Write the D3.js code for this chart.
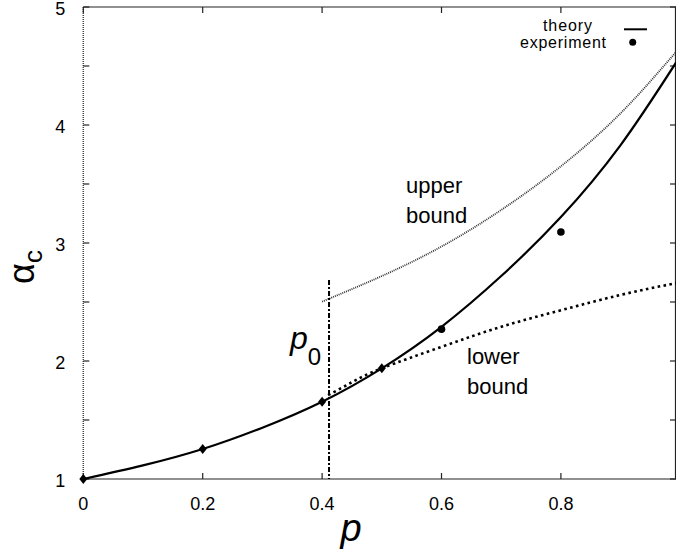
<!DOCTYPE html>
<html>
<head>
<meta charset="utf-8">
<script src="https://cdn.jsdelivr.net/npm/d3@7"></script>
<style>
  body { margin: 0; background: #fff; }
  text { font-family: "Liberation Sans", Arial, sans-serif; fill: #000; }
</style>
</head>
<body>
<div id="chart"></div>
<script>
// values
const theoryP     = [0, 0.1, 0.2, 0.3, 0.4, 0.5, 0.6, 0.7, 0.8, 0.9, 0.993];
const theoryAlpha = [1, 1.115, 1.254, 1.435, 1.655, 1.938, 2.29, 2.72, 3.22, 3.83, 4.53];

const upperP     = [0.4, 0.5, 0.6, 0.7, 0.8, 0.9, 0.993];
const upperAlpha = [2.503, 2.72, 2.97, 3.28, 3.65, 4.1, 4.62];

const lowerP     = [0.41, 0.45, 0.5, 0.6, 0.7, 0.8, 0.9, 0.993];
const lowerAlpha = [1.71, 1.82, 1.938, 2.12, 2.29, 2.43, 2.56, 2.66];

const diamondP     = [0, 0.2, 0.4, 0.5];
const diamondAlpha = [1, 1.254, 1.655, 1.938];

const expP     = [0.6, 0.8];
const expAlpha = [2.27, 3.093];

const p0 = 0.4116;
const p0Top = 2.686;

const xTicks = [0, 0.2, 0.4, 0.6, 0.8];
const yTicks = [1, 1.5, 2, 2.5, 3, 3.5, 4, 4.5, 5];
const yLabels = [1, 2, 3, 4, 5];

const width = 676, height = 554;
const margin = { top: 7, right: 0, bottom: 75, left: 83.3 };

const svg = d3.select('#chart').append('svg')
  .attr('width', width)
  .attr('height', height);

const x = d3.scaleLinear()
  .domain([0, 0.9928])
  .range([margin.left, width - margin.right]);

const y = d3.scaleLinear()
  .domain([1, 5])
  .range([height - margin.bottom, margin.top]);

const x0 = x(0), x1 = x.range()[1], yb = y(1), yt = y(5);

// frame
svg.append('line').attr('x1', x0).attr('x2', x1).attr('y1', yb).attr('y2', yb)
  .attr('stroke', '#222').attr('stroke-width', 1.2);
svg.append('line').attr('x1', x0).attr('x2', x1).attr('y1', yt).attr('y2', yt)
  .attr('stroke', '#222').attr('stroke-width', 1.2);
svg.append('line').attr('x1', x0).attr('x2', x0).attr('y1', yt).attr('y2', yb)
  .attr('stroke', '#444').attr('stroke-width', 1.5).attr('stroke-dasharray', '1,1');
svg.append('line').attr('x1', x1 - 0.5).attr('x2', x1 - 0.5).attr('y1', yt).attr('y2', yb)
  .attr('stroke', '#222').attr('stroke-width', 1.2);

// ticks
const tickG = svg.append('g').attr('stroke', '#222').attr('stroke-width', 1.2);
xTicks.forEach(t => {
  tickG.append('line').attr('x1', x(t)).attr('x2', x(t)).attr('y1', yb).attr('y2', yb - 6);
  tickG.append('line').attr('x1', x(t)).attr('x2', x(t)).attr('y1', yt).attr('y2', yt + 6);
});
yTicks.forEach(t => {
  tickG.append('line').attr('x1', x0).attr('x2', x0 + 6).attr('y1', y(t)).attr('y2', y(t));
  tickG.append('line').attr('x1', x1).attr('x2', x1 - 6).attr('y1', y(t)).attr('y2', y(t));
});

svg.append('g').selectAll('text')
  .data(xTicks)
  .join('text')
    .attr('x', d => x(d))
    .attr('y', yb + 31)
    .attr('text-anchor', 'middle')
    .attr('font-size', 18)
    .text(d => d3.format('')(d));

svg.append('g').selectAll('text')
  .data(yLabels)
  .join('text')
    .attr('x', x0 - 18)
    .attr('y', d => y(d) + 8)
    .attr('text-anchor', 'end')
    .attr('font-size', 18)
    .text(d => d);

// curves
const line = d3.line()
  .x(d => x(d[0]))
  .y(d => y(d[1]))
  .curve(d3.curveNatural);

svg.append('path')
  .datum(d3.zip(upperP, upperAlpha))
  .attr('d', line)
  .attr('fill', 'none')
  .attr('stroke', '#333')
  .attr('stroke-width', 1.8)
  .attr('stroke-dasharray', '1,1');

svg.append('path')
  .datum(d3.zip(lowerP, lowerAlpha))
  .attr('d', line)
  .attr('fill', 'none')
  .attr('stroke', '#000')
  .attr('stroke-width', 2.6)
  .attr('stroke-dasharray', '2.6,3.4');

svg.append('path')
  .datum(d3.zip(theoryP, theoryAlpha))
  .attr('d', line)
  .attr('fill', 'none')
  .attr('stroke', '#000')
  .attr('stroke-width', 2.2);

// p0 line
svg.append('line')
  .attr('x1', x(p0)).attr('x2', x(p0))
  .attr('y1', y(p0Top)).attr('y2', yb)
  .attr('stroke', '#000')
  .attr('stroke-width', 2)
  .attr('stroke-dasharray', '5,2,2,2');

// markers
svg.append('g').selectAll('path')
  .data(d3.zip(diamondP, diamondAlpha))
  .join('path')
    .attr('transform', d => `translate(${x(d[0])},${y(d[1])})`)
    .attr('d', 'M0,-5L4,0L0,5L-4,0Z')
    .attr('fill', '#000');

svg.append('g').selectAll('circle')
  .data(d3.zip(expP, expAlpha))
  .join('circle')
    .attr('cx', d => x(d[0]))
    .attr('cy', d => y(d[1]))
    .attr('r', 3.8)
    .attr('fill', '#000');

// legend
svg.append('text').attr('x', 543).attr('y', 31)
  .attr('font-size', 16).attr('textLength', 49).attr('lengthAdjust', 'spacing').text('theory');
svg.append('text').attr('x', 520).attr('y', 48)
  .attr('font-size', 16).attr('textLength', 86).attr('lengthAdjust', 'spacing').text('experiment');
svg.append('line').attr('x1', 624).attr('x2', 647).attr('y1', 29.3).attr('y2', 29.3)
  .attr('stroke', '#000').attr('stroke-width', 2);
svg.append('circle').attr('cx', 632.7).attr('cy', 42.3).attr('r', 3.5).attr('fill', '#000');

// annotations
svg.append('text').attr('x', 406).attr('y', 193).attr('font-size', 22).text('upper');
svg.append('text').attr('x', 406).attr('y', 223).attr('font-size', 22).text('bound');
svg.append('text').attr('x', 467).attr('y', 364).attr('font-size', 22).text('lower');
svg.append('text').attr('x', 467).attr('y', 394).attr('font-size', 22).text('bound');

const p0Label = svg.append('text').attr('x', 290).attr('y', 349).attr('font-size', 32);
p0Label.append('tspan').attr('font-style', 'italic').text('p');
p0Label.append('tspan').attr('font-size', 24).attr('dy', 16).text('0');

svg.append('text').attr('x', 351).attr('y', 541).attr('text-anchor', 'middle')
  .attr('font-size', 38).attr('font-style', 'italic').text('p');

const yLab = svg.append('text')
  .attr('transform', 'translate(34,267) rotate(-90)')
  .attr('text-anchor', 'middle')
  .attr('font-size', 36);
yLab.append('tspan').text('α');
yLab.append('tspan').attr('font-size', 26).attr('dy', 8).text('c');
</script>
</body>
</html>
